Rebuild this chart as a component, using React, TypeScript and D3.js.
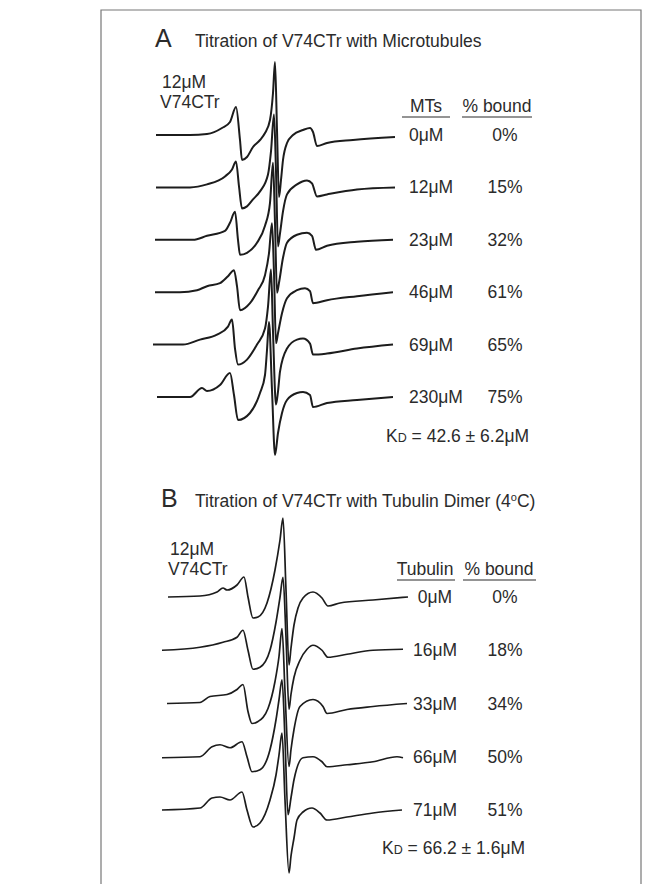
import * as d3 from 'd3'

// EPR spectra: [field, signal] pairs
// field: arbitrary sweep units, signal: derivative amplitude (up = positive)

// --- A: titration with microtubules ---
const mtConc = ['0μM', '12μM', '23μM', '46μM', '69μM', '230μM']
const mtBound = ['0%', '15%', '32%', '61%', '65%', '75%']

const mt0: [number, number][] = [
  [6, 0], [40, 0], [57, 1], [72, 7], [80, 13], [86, 28], [90, -5], [92, -25], [97, -22],
  [103, -12], [110, -5], [115, 2], [120, 15], [123, 42], [125, 73], [127, 5], [129, -62],
  [131, -45], [133, -25], [137, -8], [143, 0], [153, 5], [160, 7], [163, 3], [167, -11],
  [177, -8], [203, -5], [245, -2],
]
const mt12: [number, number][] = [
  [6, 0], [40, 0], [57, 3], [75, 11], [82, 18], [86, 26], [89, 1], [92, -21], [97, -19],
  [103, -12], [110, -4], [118, 13], [121, 36], [124, 73], [126, 16], [128, -59], [130, -46],
  [133, -24], [137, -7], [147, 3], [157, 7], [162, 4], [167, -9], [177, -7], [207, -2], [245, 0],
]
const mt23: [number, number][] = [
  [5, 0], [43, 0], [57, 4], [75, 9], [80, 17], [85, 28], [88, 0], [90, -15], [97, -13],
  [107, -3], [115, 14], [120, 37], [123, 77], [125, 17], [127, -53], [129, -43], [133, -18],
  [137, -3], [147, 5], [157, 7], [162, 4], [166, -10], [177, -6], [207, -2], [243, 0],
]
const mt46: [number, number][] = [
  [5, 0], [30, 0], [47, 2], [57, 6], [70, 9], [78, 16], [84, 22], [87, 6], [90, -18],
  [100, -11], [108, 2], [115, 17], [119, 39], [122, 69], [124, 19], [126, -51], [128, -41],
  [132, -21], [137, -6], [147, 2], [155, 4], [160, 1], [163, -11], [177, -8], [207, -4], [243, 0],
]
const mt69: [number, number][] = [
  [3, 0], [33, 0], [50, 5], [67, 10], [78, 18], [82, 25], [85, -4], [88, -20], [97, -15],
  [107, 0], [115, 16], [118, 38], [121, 75], [123, 13], [126, -60], [128, -47], [130, -27],
  [137, -4], [147, 5], [153, 6], [160, 1], [163, -10], [177, -9], [207, -4], [243, 0],
]
const mt230: [number, number][] = [
  [7, 0], [40, 0], [52, 9], [57, 6], [70, 12], [80, 24], [84, 2], [88, -23], [100, -16],
  [110, 4], [115, 22], [117, 47], [119, 75], [122, 7], [125, -58], [128, -36], [132, -16],
  [137, -3], [147, 4], [153, 5], [160, 2], [163, -10], [177, -6], [207, -3], [243, 0],
]
const mtSpectra = [mt0, mt12, mt23, mt46, mt69, mt230]

// --- B: titration with tubulin dimer ---
const tubConc = ['0μM', '16μM', '33μM', '66μM', '71μM']
const tubBound = ['0%', '18%', '34%', '50%', '51%']

const tub0: [number, number][] = [
  [18, 0], [50, 1], [67, 5], [73, 9], [77, 7], [87, 12], [94, 20], [98, 0], [103, -21],
  [108, -20], [117, -6], [125, 27], [130, 57], [133, 79], [136, 7], [139, -68], [141, -51],
  [144, -28], [148, -11], [153, -1], [163, 5], [172, -1], [178, -9], [190, -6], [223, -3], [258, 0],
]
const tub16: [number, number][] = [
  [12, 0], [50, 3], [73, 8], [87, 13], [93, 20], [98, 0], [103, -19], [110, -17], [120, 0],
  [126, 28], [130, 53], [133, 73], [136, 13], [139, -59], [141, -44], [144, -27], [150, -10],
  [157, 1], [163, 5], [172, 0], [178, -7], [197, -4], [223, 0], [253, 1],
]
const tub33: [number, number][] = [
  [17, 0], [50, 1], [60, 7], [77, 9], [87, 14], [93, 19], [98, -8], [102, -20], [108, -18],
  [118, -5], [125, 22], [129, 47], [132, 75], [135, 12], [139, -63], [141, -46], [144, -26],
  [150, -3], [163, 4], [173, -3], [177, -10], [197, -6], [223, -3], [257, 0],
]
const tub66: [number, number][] = [
  [12, -1], [50, 0], [62, 10], [70, 12], [80, 9], [92, 15], [97, 0], [102, -15], [110, -13],
  [120, 7], [126, 37], [129, 57], [132, 77], [135, 17], [138, -58], [141, -41], [144, -23],
  [153, -1], [163, 0], [172, -5], [177, -10], [197, -8], [223, -5], [247, 0], [253, -1],
]
const tub71: [number, number][] = [
  [12, 0], [50, 2], [62, 12], [70, 13], [80, 10], [92, 18], [97, 0], [103, -17], [110, -13],
  [120, 10], [126, 35], [129, 55], [132, 77], [135, 10], [139, -63], [141, -46], [144, -28],
  [147, -10], [153, -2], [162, 2], [170, -3], [177, -10], [197, -7], [223, -3], [252, 0],
]
const tubSpectra = [tub0, tub16, tub33, tub66, tub71]

const W = 671
const H = 884
const FONT = '"Liberation Sans", Arial, Helvetica, sans-serif'
const INK = '#2b2b2b'
const FS = 17.5

const field = d3.scaleLinear().domain([0, 260]).range([150, 410])
const amp = d3.scaleLinear().domain([-100, 100]).range([100, -100])
const trace = d3.line<[number, number]>()
  .x(d => field(d[0]))
  .y(d => amp(d[1]))
  .curve(d3.curveMonotoneX)

type PanelProps = {
  letter: string
  title: React.ReactNode
  titleY: number
  letterX: number
  sampleX: number
  sampleY: number
  header: string
  headerMid: number
  headerLine: [number, number]
  boundMid: number
  boundLine: [number, number]
  headerY: number
  rows: [number, number]
  spectra: [number, number][][]
  conc: string[]
  bound: string[]
  concX: number
  concAnchor: 'start' | 'middle'
  kd: string
  kdX: number
  kdY: number
  width: number
}

const Panel = (p: PanelProps) => {
  const rowY = d3.scalePoint<number>().domain(d3.range(p.spectra.length)).range(p.rows)
  return (
    <g fontFamily={FONT} fill={INK}>
      <text x={p.letterX} y={p.titleY} fontSize={25}>{p.letter}</text>
      <text x={195} y={p.titleY} fontSize={FS}>{p.title}</text>
      <text x={p.sampleX} y={p.sampleY} fontSize={FS}>12μM</text>
      <text x={p.sampleX - 2} y={p.sampleY + 20} fontSize={FS}>V74CTr</text>

      <text x={p.headerMid} y={p.headerY} fontSize={FS} textAnchor="middle">{p.header}</text>
      <text x={p.boundMid} y={p.headerY} fontSize={FS} textAnchor="middle">% bound</text>
      <line x1={p.headerLine[0]} x2={p.headerLine[1]} y1={p.headerY + 5} y2={p.headerY + 5} stroke={INK} strokeWidth={1.2} />
      <line x1={p.boundLine[0]} x2={p.boundLine[1]} y1={p.headerY + 5} y2={p.headerY + 5} stroke={INK} strokeWidth={1.2} />

      {p.spectra.map((s, i) => (
        <g key={i} transform={`translate(0,${rowY(i)})`}>
          <path d={trace(s) ?? ''} fill="none" stroke="#1c1c1c" strokeWidth={p.width} strokeLinejoin="round" />
          <text x={p.concX} y={6} fontSize={FS} textAnchor={p.concAnchor}>{p.conc[i]}</text>
          <text x={505} y={6} fontSize={FS} textAnchor="middle">{p.bound[i]}</text>
        </g>
      ))}

      <text x={p.kdX} y={p.kdY} fontSize={FS}>
        K<tspan fontSize={12.5}>D</tspan>{p.kd}
      </text>
    </g>
  )
}

export default function App() {
  return (
    <svg width={W} height={H} style={{ position: 'absolute', left: 0, top: 0, background: '#fff' }}>
      <rect width={W} height={H} fill="#fff" />
      <path d="M101,884 V10 H641 V884" fill="none" stroke="#777" strokeWidth={1.2} />
      <Panel
        letter="A" letterX={155} titleY={47}
        title="Titration of V74CTr with Microtubules"
        sampleX={162} sampleY={88}
        header="MTs" headerMid={426} headerLine={[402, 450]}
        boundMid={497} boundLine={[462, 532]} headerY={112}
        rows={[135, 397]} spectra={mtSpectra}
        conc={mtConc} bound={mtBound} concX={409} concAnchor="start"
        kd=" = 42.6 ± 6.2μM" kdX={386} kdY={442} width={2}
      />
      <Panel
        letter="B" letterX={161} titleY={507}
        title={<>Titration of V74CTr with Tubulin Dimer (4<tspan fontSize={11} dy={-6}>o</tspan><tspan dy={6}>C)</tspan></>}
        sampleX={170} sampleY={555}
        header="Tubulin" headerMid={425} headerLine={[397, 455]}
        boundMid={499} boundLine={[463, 536]} headerY={575}
        rows={[597, 810]} spectra={tubSpectra}
        conc={tubConc} bound={tubBound} concX={435} concAnchor="middle"
        kd=" = 66.2 ± 1.6μM" kdX={382} kdY={854} width={1.7}
      />
    </svg>
  )
}
